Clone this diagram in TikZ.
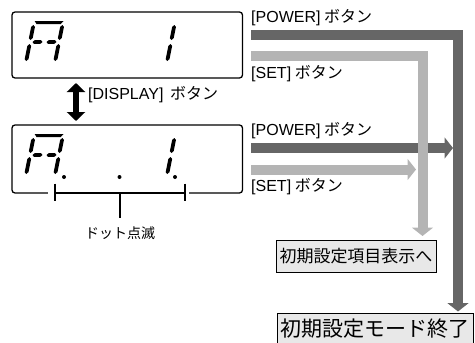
\documentclass[tikz,border=0pt]{standalone}
\usepackage{fontspec}
\setmainfont{Noto Sans CJK JP}
\newfontfamily\lat{Liberation Sans}
\usetikzlibrary{arrows.meta}
\definecolor{dk}{HTML}{666666}
\definecolor{lt}{HTML}{B4B4B4}
\definecolor{boxfill}{HTML}{E8E8E8}
\newcommand\mysegV[3]{\fill (#1,#2) -- (#1+1.9,#2+1.9) -- (#1+1.9,#3-1.9) -- (#1,#3) -- (#1-1.9,#3-1.9) -- (#1-1.9,#2+1.9) -- cycle;}
\newcommand\mysegH[3]{\fill (#1,#3) -- (#1+1.8,#3-1.8) -- (#2-1.8,#3-1.8) -- (#2,#3) -- (#2-1.8,#3+1.8) -- (#1+1.8,#3+1.8) -- cycle;}
\newcommand\mydigA[2]{\begin{scope}[shift={(#1,#2)},xslant=0.2]
 \fill (0.5,-41) -- (29.5,-41) -- (27,-37.8) -- (3,-37.8) -- cycle;
 \mysegV{0}{-37}{-22}\mysegV{29}{-37}{-22}
 \mysegH{2.5}{12.5}{-20}\mysegH{16.5}{26.5}{-20}
 \mysegV{0}{-18}{-1}\mysegV{29}{-18}{-1}
\end{scope}}
\newcommand\mydigOne[2]{\begin{scope}[shift={(#1,#2)},xslant=0.2]
 \mysegV{29}{-37}{-22}\mysegV{29}{-18}{-1}
\end{scope}}
\begin{document}
\begin{tikzpicture}[x=1pt,y=-1pt,
  disp/.style={draw,line width=1.3pt,rounded corners=3pt,inner sep=0pt},
  lbl/.style={font=\fontsize{16}{16}\selectfont,anchor=west,inner sep=0pt},
  bx/.style={draw,line width=1pt,fill=boxfill,inner sep=0pt},
  dkarrow/.style={draw=dk,line width=10pt,-{Triangle[length=8.5pt,width=21pt]}},
  ltarrow/.style={draw=lt,line width=10pt,-{Triangle[length=8.5pt,width=21pt]}},
  dblarrow/.style={draw=black,line width=6pt,{Triangle[length=9pt,width=18pt]}-{Triangle[length=9pt,width=18pt]}}]
\useasboundingbox (0,0) rectangle (475,343);
% displays
\node[disp,minimum width=230.5pt,minimum height=66pt] (d1) at (127.25,45) {};
\node[disp,minimum width=230.5pt,minimum height=68pt] (d2) at (127.25,159) {};
\mydigA{26}{62}
\mydigOne{138}{62}
\mydigA{26}{175}
\mydigOne{138}{175}
\fill (64,177) circle (2pt);
\fill (119.5,177) circle (2pt);
\fill (175,177) circle (2pt);
% bracket
\fill[white] (48,189) rectangle (189,197);
\draw[line width=1.3pt] (55,183.5) -- (55,201) (185,183.5) -- (185,201)
  (55,193) -- (185,193) (120,193) -- (120,218);
\node[font=\fontsize{14}{14}\selectfont,inner sep=0pt] (dot) at (120,233) {ドット点滅};
% double arrow
\coordinate (u1) at (76,83);
\coordinate (u2) at (76,121);
\draw[dblarrow] (u1) -- (u2);
\node[lbl] (dl) at (88,95) {{\lat [DISPLAY]}\hspace{3pt} ボタン};
% labels
\node[lbl] (pw1) at (251,17.5) {{\lat [POWER]} ボタン};
\node[lbl] (st1) at (251,74) {{\lat [SET]} ボタン};
\node[lbl] (pw2) at (251,131) {{\lat [POWER]} ボタン};
\node[lbl] (st2) at (251,187) {{\lat [SET]} ボタン};
% target boxes
\node[bx,minimum width=160pt,minimum height=32pt,font=\fontsize{17}{17}\selectfont] (b1) at (356,256) {初期設定項目表示へ};
\node[bx,minimum width=196pt,minimum height=31pt,font=\fontsize{21}{21}\selectfont] (b2) at (375,328.5) {初期設定モード終了};
% arrows
\coordinate (s1) at (251,34.5);
\coordinate (e1) at (458,311.5);
\coordinate (s2) at (251,56);
\coordinate (e2) at (422.5,236);
\coordinate (s3) at (251,148);
\coordinate (e3) at (453,148);
\coordinate (s4) at (251,169.5);
\coordinate (e4) at (416,169.5);
\draw[dkarrow] (s1) -| (e1);
\draw[dkarrow] (s3) -- (e3);
\draw[ltarrow] (s2) -| (e2);
\draw[ltarrow] (s4) -- (e4);
\end{tikzpicture}
\end{document}
